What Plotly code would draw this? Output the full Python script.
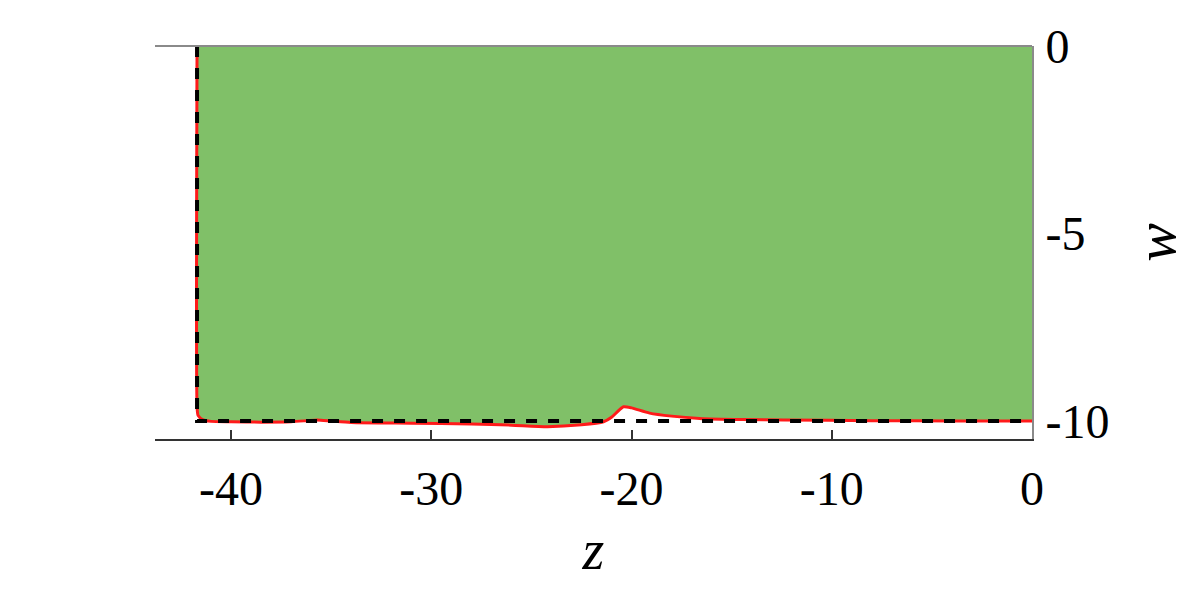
import plotly.graph_objects as go

# boundary curve (red)
red_z = [-41.7, -41.7, -41.65, -41.4, -41.0, -40.0, -38.5, -37.0, -36.2, -35.7,
         -35.0, -34.0, -31.0, -28.0, -26.0, -24.2, -22.5, -21.4, -21.0, -20.7,
         -20.4, -20.0, -19.1, -18.0, -16.6, -14.5, -12.4, -8.0, -4.0, 0.0]
red_w = [0.0, -9.6, -9.85, -9.97, -10.01, -10.02, -10.03, -10.02, -9.99, -9.97,
         -10.0, -10.04, -10.06, -10.08, -10.11, -10.15, -10.1, -10.02, -9.9, -9.75,
         -9.62, -9.65, -9.79, -9.87, -9.93, -9.96, -9.97, -9.99, -10.0, -10.0]

# reference boundary (black dashed)
ref_z = [-41.7, -41.7, 0.0]
ref_w = [0.0, -10.0, -10.0]

# closing corner of the shaded region
corner_z = [0.0]
corner_w = [0.0]

x_ticks = [-40, -30, -20, -10, 0]
y_ticks = [0, -5, -10]

FONT = "Liberation Serif"
GREEN = "#80C068"

fig = go.Figure()
fig.add_trace(go.Scatter(
    x=red_z + corner_z, y=red_w + corner_w,
    mode="lines", fill="toself", fillcolor=GREEN,
    line=dict(width=0), hoverinfo="skip", showlegend=False,
))
fig.add_trace(go.Scatter(
    x=red_z, y=red_w, mode="lines",
    line=dict(color="#FF1A1A", width=3, shape="spline", smoothing=0.6),
    showlegend=False,
))
fig.add_trace(go.Scatter(
    x=ref_z, y=ref_w, mode="lines",
    line=dict(color="black", width=4, dash="11px,11px"),
    showlegend=False,
))

# top frame line
fig.add_shape(type="line", xref="paper", yref="paper", x0=0, x1=1, y0=1, y1=1,
              line=dict(color="#8a8a8a", width=2))

# page body has an 8px margin, so margins are trimmed to land on the same pixels
fig.update_layout(
    width=1196, height=593,
    margin=dict(l=147, r=172, t=35, b=162),
    paper_bgcolor="white", plot_bgcolor="white",
    font=dict(family=FONT, color="black", size=48),
    xaxis=dict(
        range=[-43.8, 0], tickvals=x_ticks, ticktext=[str(v) for v in x_ticks],
        showgrid=False, zeroline=False, showline=True, linecolor="#333333", linewidth=2,
        ticks="inside", ticklen=9, tickcolor="#333333", tickwidth=1.5,
        ticklabelstandoff=6,
        title=dict(text="<i>z</i>", font=dict(family=FONT, size=56), standoff=16),
    ),
    yaxis=dict(
        range=[-10.48, 0], tickvals=y_ticks, ticktext=[str(v) for v in y_ticks],
        side="right", showgrid=False, zeroline=False, showline=True,
        linecolor="#8a8a8a", linewidth=2, ticks="",
        ticklabelstandoff=2,
        title=dict(text="<i>w</i>", font=dict(family=FONT, size=58), standoff=26),
    ),
)

fig.write_html("out.html")
